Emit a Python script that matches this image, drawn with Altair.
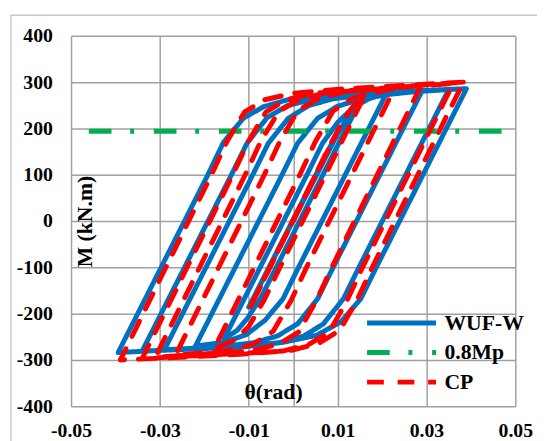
import altair as alt
import pandas as pd

# WUF-W (blue) hysteresis path
wuf_theta = [0, 0.005, 0.010,
             -0.010,
             0.0051, 0.0086, 0.0115, 0.0135, 0.015,
             -0.0038, -0.0073, -0.0103, -0.0126, -0.0156,
             0.0031, 0.0066, 0.0101, 0.0135, 0.0170, 0.021,
             0.0012, -0.0023, -0.0063, -0.0105, -0.0155, -0.022,
             -0.0025, 0.001, 0.0055, 0.010, 0.0155, 0.022, 0.029,
             0.0090, 0.0055, 0.001, -0.0035, -0.009, -0.017, -0.029,
             -0.0091, -0.0056, -0.0011, 0.0034, 0.0089, 0.017, 0.035,
             0.0148, 0.0113, 0.0068, 0.0023, -0.0032, -0.0113, -0.034,
             -0.0139, -0.0104, -0.0059, -0.0014, 0.0041, 0.0121, 0.025, 0.039,
             0.0187, 0.0152, 0.0107, 0.0052, -0.0023, -0.0123, -0.025, -0.0394,
             -0.0192, -0.0157, -0.0112, -0.0067, -0.0012, 0.0068, 0.022, 0.039]
wuf_M = [0, 95, 188,
         -186,
         100, 166, 212, 240, 258,
         -100, -166, -210, -236, -255,
         100, 168, 214, 245, 264, 276,
         -100, -168, -214, -245, -262, -270,
         100, 168, 222, 248, 264, 274, 281,
         -100, -168, -222, -248, -263, -272, -278,
         100, 168, 222, 249, 264, 273, 284,
         -100, -168, -222, -249, -263, -272, -281,
         100, 168, 223, 249, 262, 271, 279, 286,
         -100, -168, -218, -247, -262, -271, -277, -284,
         100, 170, 222, 247, 262, 271, 279, 286]

# CP (red) hysteresis path
cp_theta = [0, 0.005, 0.010,
            -0.010,
            0.0050, 0.0085, 0.0115, 0.0138, 0.016,
            -0.0030, -0.0065, -0.0100, -0.0130, -0.0178,
            0.0015, 0.005, 0.009, 0.0135, 0.0228,
            0.0030, -0.0005, -0.0045, -0.009, -0.015, -0.0265,
            -0.0065, -0.003, 0.001, 0.0055, 0.0115, 0.0288,
            0.0087, 0.0052, 0.0012, -0.0033, -0.0093, -0.031,
            -0.0108, -0.0073, -0.0033, 0.0012, 0.0072, 0.036,
            0.0156, 0.0121, 0.0081, 0.0036, -0.0024, -0.034,
            -0.0136, -0.0101, -0.0061, -0.0016, 0.0044, 0.0383,
            0.0178, 0.0143, 0.0105, 0.0058, -0.0002, -0.012, -0.0389,
            -0.0184, -0.0149, -0.0109, -0.0064, 0.0, 0.012, 0.0383]
cp_M = [0, 98, 195,
        -193,
        100, 168, 222, 252, 270,
        -100, -170, -228, -256, -276,
        100, 172, 238, 266, 287,
        -100, -172, -238, -266, -280, -290,
        100, 172, 238, 264, 279, 293,
        -100, -172, -240, -266, -280, -294,
        100, 172, 236, 262, 277, 297,
        -100, -172, -240, -266, -281, -297,
        100, 172, 236, 262, 276, 300,
        -100, -172, -236, -264, -279, -288, -300,
        100, 172, 236, 262, 276, 286, 300]

# 0.8Mp level
mp_theta = [-0.046, 0.05]
mp_M = [194, 194]

series_names = ["WUF-W", "0.8Mp", "CP"]
series_colors = ["#0070C0", "#00B050", "#FF0000"]
series_dashes = [[1, 0], [23, 19, 4, 20], [17, 14]]

x_ticks = [-0.05, -0.03, -0.01, 0, 0.01, 0.03, 0.05]
y_ticks = [-400, -300, -200, -100, 0, 100, 200, 300, 400]


def frame(th, m, name):
    return pd.DataFrame({"theta": th, "M": m, "series": name, "idx": list(range(len(th)))})


df_wuf = frame(wuf_theta, wuf_M, "WUF-W")
df_cp = frame(cp_theta, cp_M, "CP")
df_mp = frame(mp_theta, mp_M, "0.8Mp")

FONT = "Liberation Serif"

xscale = alt.Scale(domain=[-0.05, 0.05], nice=False, zero=False)
yscale = alt.Scale(domain=[-400, 400], nice=False)

xaxis = alt.Axis(
    values=x_ticks,
    labelExpr="datum.value == 0 ? '' : (datum.value < 0 ? '-' + format(-datum.value, '.2f') : format(datum.value, '.2f'))",
    grid=True, gridColor="#a0a0a0", gridWidth=1.5,
    ticks=False, tickSize=0, domain=False,
    labelFont=FONT, labelFontSize=20, labelFontWeight="bold", labelColor="#000000",
    labelPadding=15, labelFlush=False, labelOverlap=False,
    title="θ(rad)", titleFont=FONT, titleFontSize=22, titleFontWeight="bold",
    titleColor="#000000", titleX=205, titleY=-15, titleAlign="center", titleBaseline="middle",
)
yaxis = alt.Axis(
    values=y_ticks,
    labelExpr="datum.value < 0 ? '-' + format(-datum.value, 'd') : format(datum.value, 'd')",
    grid=True, gridColor="#a0a0a0", gridWidth=1.5,
    ticks=False, tickSize=0, domain=False,
    labelFont=FONT, labelFontSize=20, labelFontWeight="bold", labelColor="#000000",
    labelPadding=19, labelOverlap=False,
    title="M (kN.m)", titleFont=FONT, titleFontSize=22, titleFontWeight="bold",
    titleColor="#000000", titleAngle=270, titleX=14, titleY=188,
    titleAlign="center", titleBaseline="middle",
)

legend = alt.Legend(
    title=None, orient="none", legendX=323, legendY=279,
    symbolType="M-3.5,0H3.5", symbolSize=400, symbolStrokeWidth=5,
    labelFont=FONT, labelFontSize=22, labelFontWeight="bold", labelColor="#000000",
    labelOffset=31, rowPadding=6, padding=0,
)

color_enc = alt.Color("series:N", scale=alt.Scale(domain=series_names, range=series_colors), legend=legend)
dash_enc = alt.StrokeDash("series:N", scale=alt.Scale(domain=series_names, range=series_dashes), legend=legend)


def line_layer(df, cap):
    return alt.Chart(df).mark_line(strokeWidth=5, strokeCap=cap, strokeJoin="round").encode(
        x=alt.X("theta:Q", scale=xscale, axis=xaxis),
        y=alt.Y("M:Q", scale=yscale, axis=yaxis),
        color=color_enc,
        strokeDash=dash_enc,
        order=alt.Order("idx:Q"),
    )


border = alt.Chart(pd.DataFrame({"a": [0]})).mark_rect(
    fill=None, stroke="#c8c8c8", strokeWidth=1.5
).encode(x=alt.value(-61), x2=alt.value(700), y=alt.value(-21), y2=alt.value(700))

chart = alt.layer(
    border,
    line_layer(df_wuf, "round"),
    line_layer(df_mp, "butt"),
    line_layer(df_cp, "round"),
).properties(
    width=451, height=376,
    autosize=alt.AutoSizeParams(type="none"),
    padding={"left": 64, "top": 25, "right": 22, "bottom": 32},
).configure_view(stroke=None)

chart.save("out.html", embed_options={"renderer": "svg", "actions": False})
